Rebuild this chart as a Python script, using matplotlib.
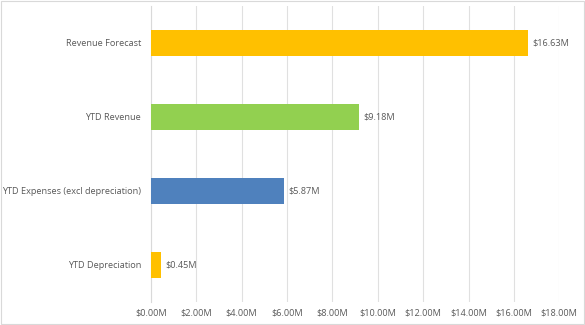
import matplotlib
matplotlib.use('Agg')
import matplotlib.pyplot as plt
from matplotlib.patches import Rectangle

# data (in $M), bottom to top
categories = ["YTD Depreciation", "YTD Expenses (excl depreciation)",
              "YTD Revenue", "Revenue Forecast"]
values = [0.45, 5.87, 9.18, 16.63]
bar_colors = ["#FFC000", "#4F81BD", "#92D050", "#FFC000"]
xticks = [0, 2, 4, 6, 8, 10, 12, 14, 16, 18]

TEXT = "#595959"
plt.rcParams['font.family'] = ['Open Sans', 'DejaVu Sans']

fig = plt.figure(figsize=(5.85, 3.25), dpi=100)
ax = fig.add_axes([0.258, 0.071, 0.698, 0.911])

ax.barh(range(len(categories)), values, height=0.35, color=bar_colors,
        edgecolor="none", zorder=3)

for i, v in enumerate(values):
    ax.text(v + 0.2, i, f"${v:.2f}M", va="center", ha="left",
            fontsize=6.6, color=TEXT)

ax.set_xlim(0, 18)
ax.set_ylim(-0.5, len(categories) - 0.5)
ax.set_xticks(xticks)
ax.set_xticklabels([f"${t:.2f}M" for t in xticks])
ax.set_yticks(range(len(categories)))
ax.set_yticklabels(categories)
ax.tick_params(axis="both", length=0, labelsize=6.6, colors=TEXT)
ax.tick_params(axis="y", pad=7)
ax.tick_params(axis="x", pad=5)
ax.grid(axis="x", color="#E0E0E0", linewidth=0.8, zorder=0)
for s in ["top", "right", "bottom"]:
    ax.spines[s].set_visible(False)
ax.spines["left"].set_color("#D9D9D9")
ax.spines["left"].set_linewidth(0.8)

# light chart border
fig.patches.append(Rectangle((0.001, 0.002), 0.997, 0.995, transform=fig.transFigure,
                             fill=False, edgecolor="#D9D9D9", linewidth=0.8))

fig.savefig("out.png", dpi=100, facecolor="white")
